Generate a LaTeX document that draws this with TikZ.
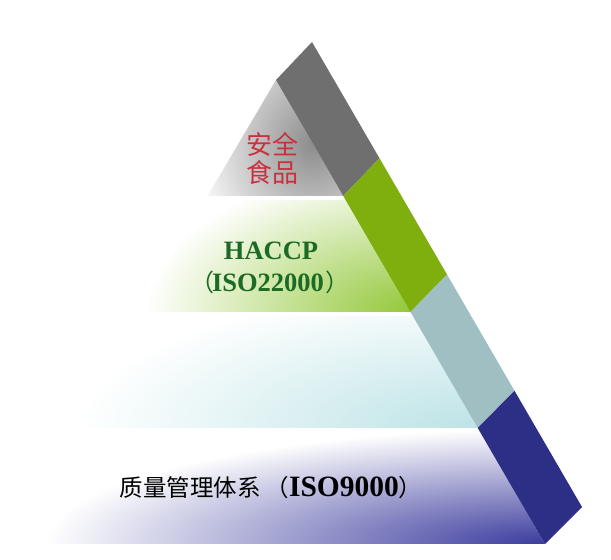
\documentclass[tikz,border=0pt]{standalone}
\usepackage{fontspec}
\setmainfont{Liberation Serif}
\newfontfamily\cjk{Noto Sans CJK SC}
\usetikzlibrary{calc, positioning}

\definecolor{bandgray}{HTML}{6F6F6F}
\definecolor{bandgreen}{HTML}{7FAF0E}
\definecolor{bandteal}{HTML}{9FBFC3}
\definecolor{bandnavy}{HTML}{2D2E86}
\definecolor{layergray}{HTML}{8C8C8C}
\definecolor{layergreen}{HTML}{93C83A}
\definecolor{layercyan}{HTML}{BCE3E6}
\definecolor{layernavy}{HTML}{3B3B9E}
\definecolor{safered}{HTML}{C8323E}
\definecolor{haccpgreen}{HTML}{1B6B24}

\begin{document}
\begin{tikzpicture}[x=1pt,y=1pt,every node/.style={inner sep=0pt}]
	\tikzset{safetext/.style={anchor=base, text=safered, font=\cjk\fontsize{26}{26}\selectfont},
		haccptext/.style={anchor=base, text=haccpgreen, font=\fontsize{26.5}{26.5}\selectfont\bfseries},
		basetext/.style={anchor=base, text=black, font=\fontsize{23.5}{23.5}\selectfont}}
	\useasboundingbox (0,0) rectangle (611,560);
	% band edges and left edge
	\coordinate (a0) at (276,480);
	\coordinate (a4) at (545,16);
	\coordinate (b0) at (312,518);
	\coordinate (b4) at (582,53);
	\coordinate (l4) at (2,16);
	\coordinate (a1) at ($(a0)!0.25!(a4)$);
	\coordinate (a2) at ($(a0)!0.5!(a4)$);
	\coordinate (a3) at ($(a0)!0.75!(a4)$);
	\coordinate (b1) at ($(b0)!0.25!(b4)$);
	\coordinate (b2) at ($(b0)!0.5!(b4)$);
	\coordinate (b3) at ($(b0)!0.75!(b4)$);
	\coordinate (l1) at ($(a0)!0.25!(l4)$);
	\coordinate (l2) at ($(a0)!0.5!(l4)$);
	\coordinate (l3) at ($(a0)!0.75!(l4)$);
	% tops of the lower layers, a little below
	\coordinate (g1) at ($(a0)!0.259!(a4)$);
	\coordinate (g2) at ($(a0)!0.509!(a4)$);
	\coordinate (g3) at ($(a0)!0.759!(a4)$);
	\coordinate (h1) at ($(a0)!0.259!(l4)$);
	\coordinate (h2) at ($(a0)!0.509!(l4)$);
	\coordinate (h3) at ($(a0)!0.759!(l4)$);
	% layers
	\begin{scope}
		\clip (a0) -- (a1) -- (l1) -- cycle;
		\shade[inner color=layergray, outer color=white] ($(a0)!0.55!(a1)$) ellipse (125 and 140);
	\end{scope}
	\begin{scope}
		\clip (g1) -- (a2) -- (l2) -- (h1) -- cycle;
		\shade[inner color=layergreen, outer color=white] (a2) ellipse (265 and 145);
	\end{scope}
	\begin{scope}
		\clip (g2) -- (a3) -- (l3) -- (h2) -- cycle;
		\shade[inner color=layercyan, outer color=white] (a3) ellipse (400 and 140);
	\end{scope}
	\begin{scope}
		\clip (g3) -- (a4) -- (l4) -- (h3) -- cycle;
		\shade[inner color=layernavy, outer color=white] (a4) ellipse (500 and 115);
	\end{scope}
	% side band
	\fill[bandgray] (a0) -- (a1) -- (b1) -- (b0) -- cycle;
	\fill[bandgreen] (a1) -- (a2) -- (b2) -- (b1) -- cycle;
	\fill[bandteal] (a2) -- (a3) -- (b3) -- (b2) -- cycle;
	\fill[bandnavy] (a3) -- (a4) -- (b4) -- (b3) -- cycle;
	% texts
	\node[safetext] (safe) at (272,405) {安全};
	\node[safetext] (food) at ($(safe.base)+(0,-28)$) {食品};
	\node[haccptext] (haccp) at (271,300) {HACCP};
	\node[haccptext] (iso22) at ($(haccp.base)+(-1,-32)$) {{\cjk\mdseries\fontsize{24}{24}\selectfont （\hspace{-2pt}}ISO22000{\cjk\mdseries\fontsize{24}{24}\selectfont \hspace{2pt}）}};
	\node[basetext] (qms) at (271,63) {{\cjk 质量管理体系\hspace{5pt}（}{\bfseries\fontsize{29.5}{29.5}\selectfont ISO9000}{\cjk ）}};
\end{tikzpicture}
\end{document}
